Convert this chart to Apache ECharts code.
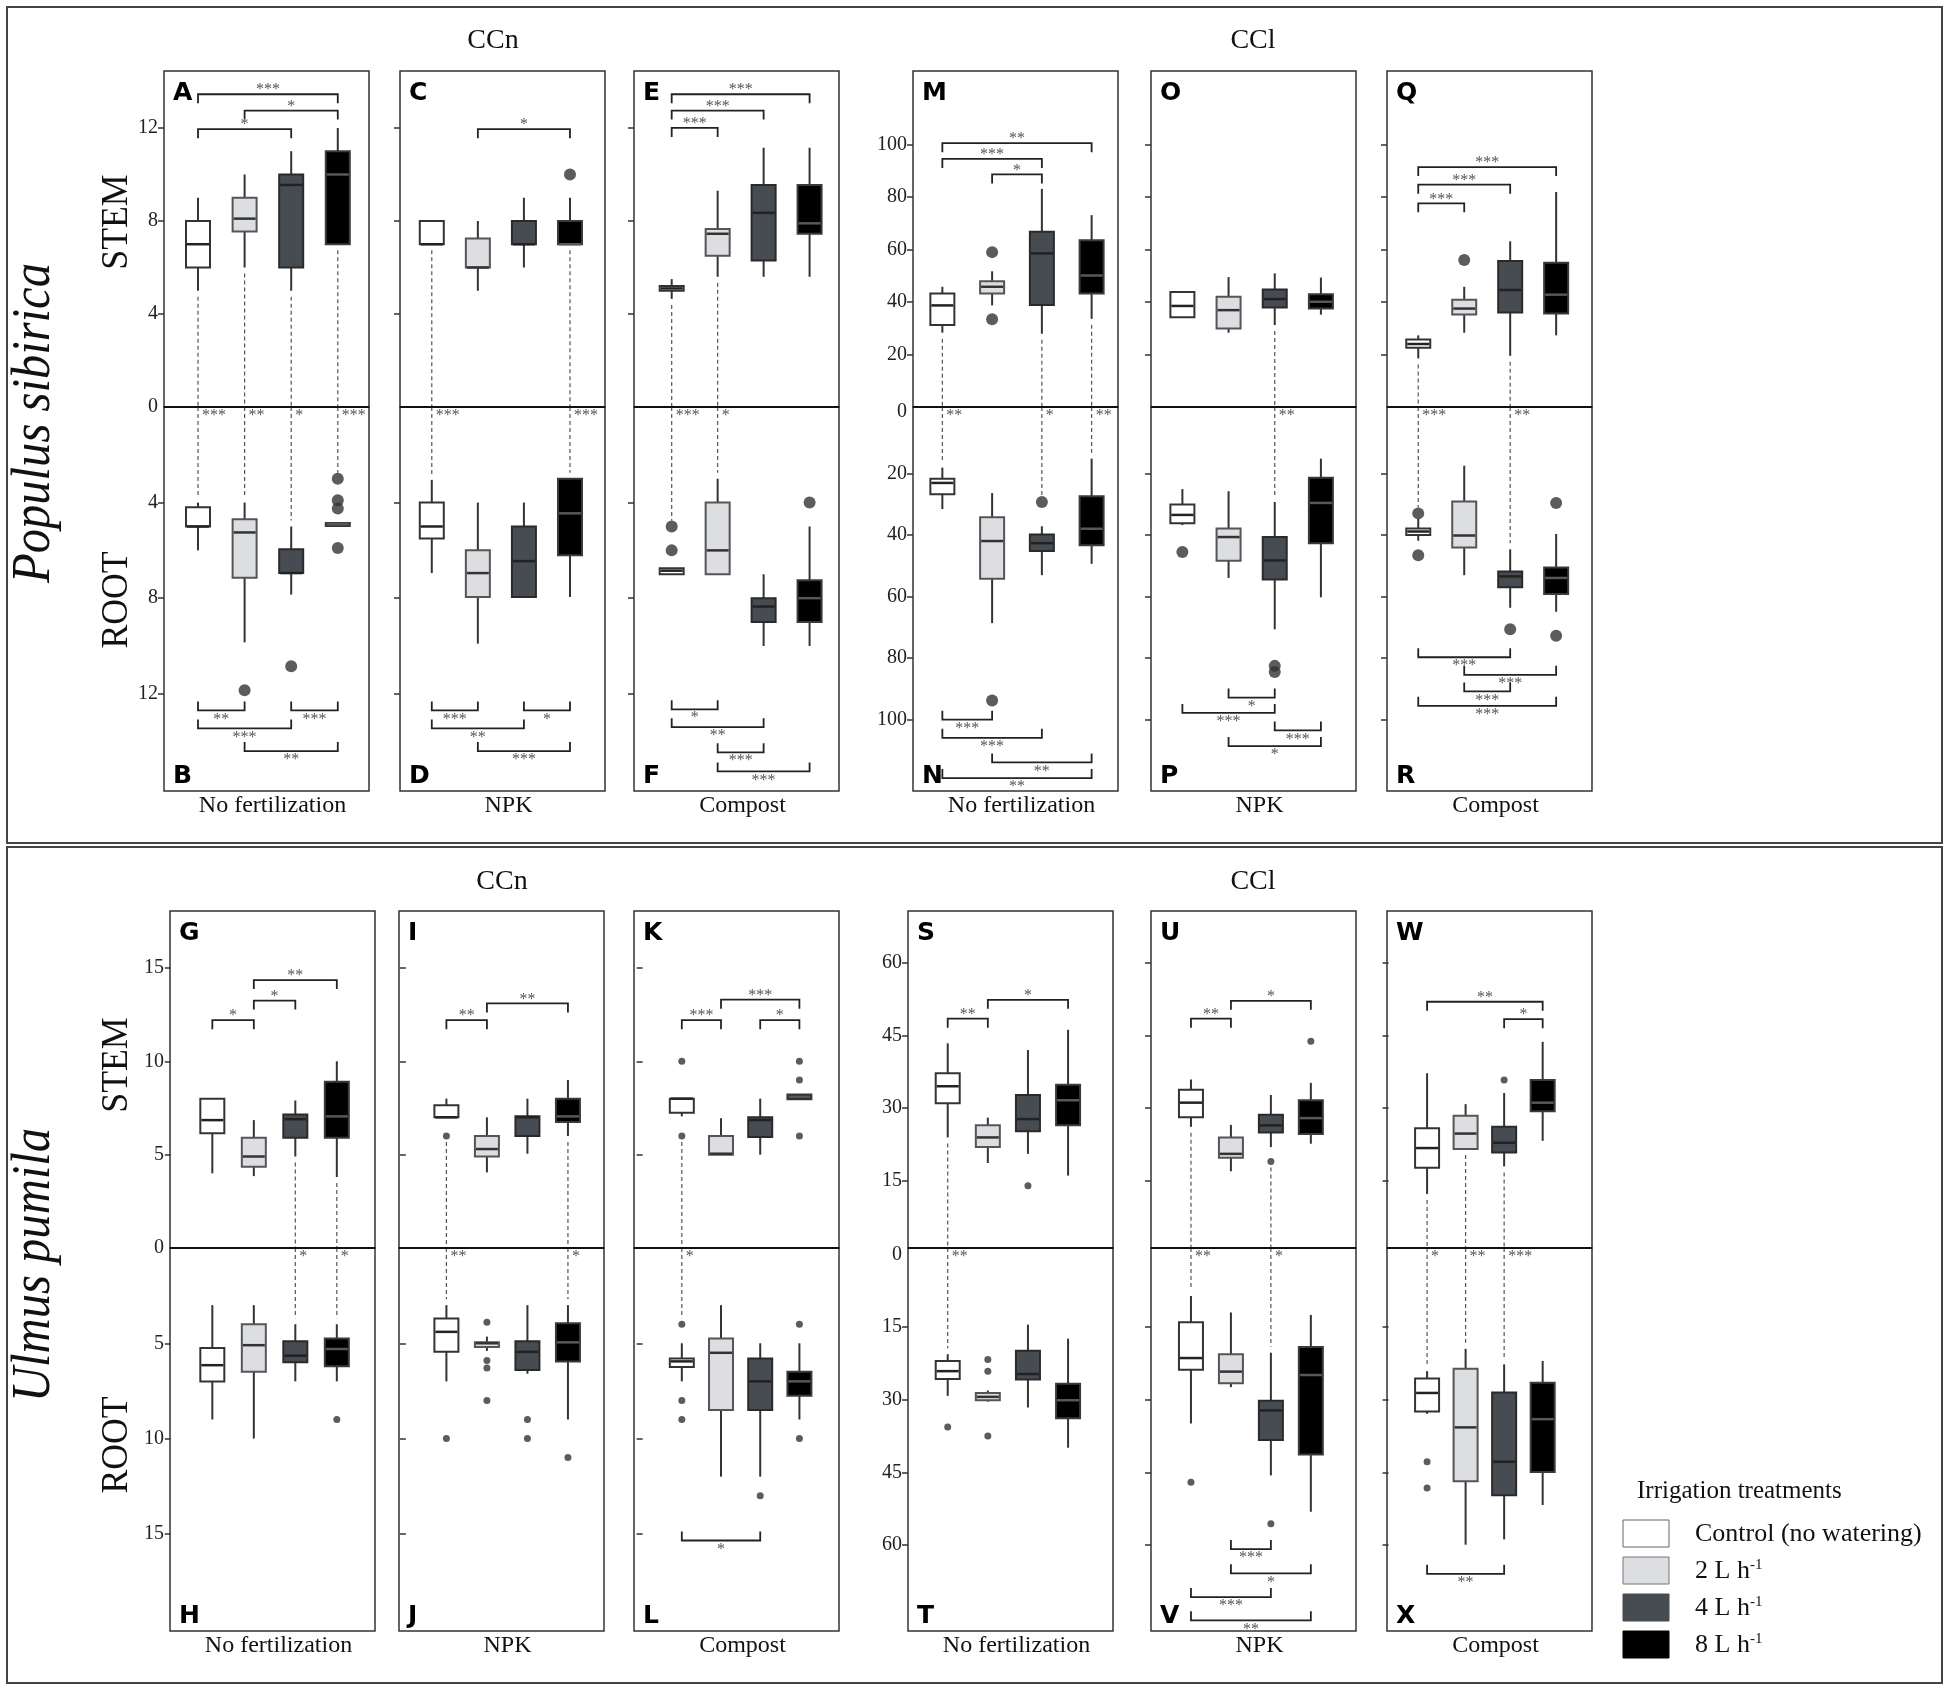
<!DOCTYPE html>
<html>
<head>
<meta charset="utf-8">
<script src="https://cdn.jsdelivr.net/npm/echarts@6/dist/echarts.min.js"></script>
<style>
  html, body { margin: 0; padding: 0; background: #fff; }
  #main { width: 1949px; height: 1690px; }
</style>
</head>
<body>
<div id="main"></div>
<script>
// irrigation treatments (box colours follow this order)
var treatments = ['Control (no watering)', '2 L h-1', '4 L h-1', '8 L h-1'];
var fertNames = ['No fertilization', 'NPK', 'Compost'];

// tick labels
var ticksPopCCn = [4, 8, 12];
var ticksPopCCl = [20, 40, 60, 80, 100];
var ticksUlmCCn = [5, 10, 15];
var ticksUlmCCl = [15, 30, 45, 60];

// boxes: [min, q1, median, q3, max] per treatment; out: outliers; sig: [from, to, y, stars]
// Populus sibirica, CCn
var boxA = [[5, 6, 7, 8, 9], [6, 7.55, 8.1, 9, 10], [5, 6, 9.55, 10, 11], [7, 7, 10, 11, 12]];
var outA = [[], [], [], []];
var sigA = [[1, 4, 13.45, '***'], [2, 4, 12.75, '*'], [1, 3, 11.95, '*']];
var boxB = [[4, 4.2, 5, 5, 6], [4, 4.7, 5.25, 7.15, 9.85], [5, 5.95, 6.95, 6.95, 7.85], [4.85, 4.85, 4.9, 4.95, 4.95]];
var outB = [[], [11.85], [10.85], [3, 3.9, 4.25, 5.9]];
var sigB = [[1, 2, 12.7, '**'], [3, 4, 12.7, '***'], [1, 3, 13.45, '***'], [2, 4, 14.4, '**']];
var linkAB = [[1, '***'], [2, '**'], [3, '*'], [4, '***']];

var boxC = [[7, 7, 7, 8, 8], [5, 6, 6, 7.25, 8], [6, 7, 7, 8, 9], [7, 7, 7, 8, 9]];
var outC = [[], [], [], [10]];
var sigC = [[2, 4, 11.95, '*']];
var boxD = [[3.05, 4, 5, 5.5, 6.95], [4, 6, 6.95, 7.95, 9.9], [4, 5, 6.45, 7.95, 7.95], [3, 3, 4.45, 6.2, 7.95]];
var outD = [[], [], [], []];
var sigD = [[1, 2, 12.7, '***'], [3, 4, 12.7, '*'], [1, 3, 13.45, '**'], [2, 4, 14.4, '***']];
var linkCD = [[1, '***'], [4, '***']];

var boxE = [[4.65, 5, 5.1, 5.2, 5.5], [5.6, 6.5, 7.45, 7.65, 9.3], [5.6, 6.3, 8.35, 9.55, 11.15], [5.6, 7.45, 7.9, 9.55, 11.15]];
var outE = [[], [], [], []];
var sigE = [[1, 4, 13.45, '***'], [1, 3, 12.75, '***'], [1, 2, 12, '***']];
var boxF = [[6.75, 6.75, 6.85, 7, 7], [3, 4, 6, 7, 7], [7, 8, 8.35, 9, 10], [5, 7.25, 8, 9, 10]];
var outF = [[5, 6], [], [], [4]];
var sigF = [[1, 2, 12.65, '*'], [1, 3, 13.4, '**'], [2, 3, 14.45, '***'], [2, 4, 15.25, '***']];
var linkEF = [[1, '***'], [2, '*']];

// Populus sibirica, CCl
var boxM = [[28.3, 31.2, 38.7, 43.2, 45.8], [38.7, 43.2, 45.8, 47.9, 51.7], [27.9, 38.9, 58.5, 66.8, 83.1], [33.6, 43.2, 50.1, 63.5, 73.1]];
var outM = [[], [59, 33.4], [], []];
var sigM = [[1, 4, 100.5, '**'], [1, 3, 94.5, '***'], [2, 3, 88.6, '*']];
var boxN = [[18, 21.6, 23, 26.7, 31.5], [26.3, 34.2, 41.9, 54.2, 68.6], [37.1, 39.8, 42.6, 45.1, 53], [15.1, 27.3, 37.9, 43.3, 49.3]];
var outN = [[], [93.8], [29.2], []];
var sigN = [[1, 2, 100, '***'], [1, 3, 105.9, '***'], [2, 4, 113.9, '**'], [1, 4, 119, '**']];
var linkMN = [[1, '**'], [3, '*'], [4, '**']];

var boxO = [[34.2, 34.2, 38.5, 43.8, 43.8], [28.3, 29.9, 36.9, 42, 49.5], [31.2, 37.9, 41.1, 44.8, 50.9], [35.2, 37.5, 40.1, 43, 49.3]];
var outO = [[], [], [], []];
var sigO = [];
var boxP = [[25, 30, 33.4, 36.1, 36.7], [25.7, 37.8, 40.6, 48.3, 53.9], [29.2, 40.6, 48.2, 54.4, 70.6], [15.1, 21.3, 29.5, 42.6, 60.2]];
var outP = [[45.5], [], [82.5, 84.5], []];
var sigP = [[2, 3, 92.8, '*'], [1, 3, 97.8, '***'], [3, 4, 103.5, '***'], [2, 4, 108.6, '*']];
var linkOP = [[3, '**']];

var boxQ = [[18.5, 22.6, 24, 25.7, 27.3], [28.3, 35.2, 37.5, 40.9, 45.8], [19.5, 36, 44.6, 55.6, 63.1], [27.3, 35.6, 42.8, 55, 81.9]];
var outQ = [[], [56], [], []];
var sigQ = [[1, 4, 91.4, '***'], [1, 3, 84.7, '***'], [1, 2, 77.6, '***']];
var boxR = [[34.6, 37.8, 38.8, 39.9, 41.8], [17.4, 29, 40.1, 44, 53], [44.6, 51.8, 53.4, 56.9, 63.6], [39.6, 50.5, 53.9, 59.1, 64.9]];
var outR = [[32.9, 46.5], [], [70.6], [29.5, 72.7]];
var sigR = [[1, 3, 79.7, '***'], [2, 4, 85.4, '***'], [2, 3, 90.8, '***'], [1, 4, 95.5, '***']];
var linkQR = [[1, '***'], [3, '**']];

// Ulmus pumila, CCn
var boxG = [[4, 6.15, 6.85, 8, 8], [3.85, 4.35, 4.9, 5.9, 6.85], [4.9, 5.9, 6.9, 7.15, 7.9], [3.8, 5.9, 7.05, 8.9, 10]];
var outG = [[], [], [], []];
var sigG = [[1, 2, 12.2, '*'], [2, 3, 13.25, '*'], [2, 4, 14.35, '**']];
var boxH = [[3, 5.25, 6.15, 7, 9], [3, 4, 5.1, 6.5, 10], [4, 4.9, 5.65, 6, 7], [4, 4.75, 5.3, 6.2, 7]];
var outH = [[], [], [], [9]];
var sigH = [];
var linkGH = [[3, '*'], [4, '*']];

var boxI = [[7, 7, 7, 7.65, 8], [4.05, 4.9, 5.3, 6, 7], [5.05, 6, 7, 7.05, 8], [6, 6.75, 7.05, 8, 9]];
var outI = [[6], [], [], []];
var sigI = [[1, 2, 12.2, '**'], [2, 4, 13.1, '**']];
var boxJ = [[3, 3.7, 4.4, 5.45, 7], [4.65, 4.95, 5, 5.2, 5.4], [3, 4.9, 5.45, 6.4, 6.6], [3, 3.95, 4.95, 5.95, 9]];
var outJ = [[10], [3.9, 5.9, 6.3, 8], [9, 10], [11]];
var sigJ = [];
var linkIJ = [[1, '**'], [4, '*']];

var boxK = [[7.05, 7.25, 8, 8, 8], [5, 5, 5.05, 6, 6.95], [5, 5.95, 6.85, 7, 8], [7.97, 7.97, 8.1, 8.22, 8.22]];
var outK = [[10, 6], [], [], [10, 9, 6]];
var sigK = [[1, 2, 12.2, '***'], [3, 4, 12.2, '*'], [2, 4, 13.3, '***']];
var boxL = [[5, 5.8, 5.95, 6.25, 7], [3, 4.75, 5.5, 8.5, 12], [5, 5.8, 7, 8.5, 12], [5, 6.5, 7, 7.75, 9]];
var outL = [[4, 8, 9], [], [13], [4, 10]];
var sigL = [[1, 3, 15.35, '*']];
var linkKL = [[1, '*']];

// Ulmus pumila, CCl
var boxS = [[23.9, 31, 34.5, 37.2, 43.4], [18.6, 21.9, 23.9, 26.4, 28], [20.5, 25.2, 27.7, 32.7, 42], [16, 26.4, 31.6, 34.8, 46.2]];
var outS = [[], [], [13.9], []];
var sigS = [[1, 2, 48.5, '**'], [2, 4, 52.4, '*']];
var boxT = [[20.6, 22, 24.1, 25.7, 29.2], [28.1, 28.6, 29.4, 30.1, 30.4], [14.5, 19.9, 24.7, 25.8, 31.6], [17.4, 26.7, 30.1, 33.8, 39.9]];
var outT = [[35.6], [21.7, 24.1, 37.5], [], []];
var sigT = [];
var linkST = [[1, '**']];

var boxU = [[26.1, 28.1, 31.1, 33.8, 35.9], [16.9, 19.7, 20.5, 23.9, 26.5], [21.9, 24.9, 26.4, 28.6, 32.7], [22.6, 24.6, 27.9, 31.6, 35.2]];
var outU = [[], [], [18.9], [43.8]];
var sigU = [[1, 2, 48.5, '**'], [2, 4, 52.2, '*']];
var boxV = [[8.6, 14, 21.4, 23.8, 34.9], [12, 20.6, 24.2, 26.6, 27.4], [20.3, 30.2, 32.2, 38.3, 45.6], [12.5, 19.1, 24.9, 41.3, 53.1]];
var outV = [[47], [], [55.6], []];
var sigV = [[2, 3, 60.8, '***'], [2, 4, 65.8, '*'], [1, 3, 70.7, '***'], [1, 4, 75.5, '**']];
var linkUV = [[1, '**'], [3, '*']];

var boxW = [[12.2, 17.6, 21.7, 25.8, 37.2], [21.5, 21.5, 24.7, 28.4, 30.8], [17.9, 20.8, 22.8, 26.1, 33.1], [23.2, 29.3, 31.1, 35.8, 43.7]];
var outW = [[], [], [35.8], []];
var sigW = [[1, 4, 52, '**'], [3, 4, 48.4, '*']];
var boxX = [[24.1, 25.6, 28.6, 32.4, 32.9], [19.5, 23.6, 35.7, 46.8, 59.9], [22.7, 28.5, 42.8, 49.7, 58.8], [22, 26.5, 34, 44.9, 51.7]];
var outX = [[42.8, 48.2], [], [], []];
var sigX = [[1, 3, 65.9, '**']];
var linkWX = [[1, '*'], [2, '**'], [3, '***']];

// ---------------------------------------------------------------
var BOX = {A: boxA, B: boxB, C: boxC, D: boxD, E: boxE, F: boxF, M: boxM, N: boxN, O: boxO, P: boxP, Q: boxQ, R: boxR,
           G: boxG, H: boxH, I: boxI, J: boxJ, K: boxK, L: boxL, S: boxS, T: boxT, U: boxU, V: boxV, W: boxW, X: boxX};
var OUT = {A: outA, B: outB, C: outC, D: outD, E: outE, F: outF, M: outM, N: outN, O: outO, P: outP, Q: outQ, R: outR,
           G: outG, H: outH, I: outI, J: outJ, K: outK, L: outL, S: outS, T: outT, U: outU, V: outV, W: outW, X: outX};
var SIG = {A: sigA, B: sigB, C: sigC, D: sigD, E: sigE, F: sigF, M: sigM, N: sigN, O: sigO, P: sigP, Q: sigQ, R: sigR,
           G: sigG, H: sigH, I: sigI, J: sigJ, K: sigK, L: sigL, S: sigS, T: sigT, U: sigU, V: sigV, W: sigW, X: sigX};
var LINK = {A: linkAB, C: linkCD, E: linkEF, M: linkMN, O: linkOP, Q: linkQR,
            G: linkGH, I: linkIJ, K: linkKL, S: linkST, U: linkUV, W: linkWX};

// layout (pixels)
var SERIF = 'Liberation Serif';
var PW = 205;
var rows = [
  {top: 71, zero: 407, bottom: 791, lefts: [164, 400, 634, 913, 1151, 1387],
   xr: [[0.27, 4.67], [0.31, 4.76], [0.18, 4.64], [0.41, 4.53], [0.32, 4.76], [0.32, 4.78]], dot: 12},
  {top: 911, zero: 1248, bottom: 1631, lefts: [170, 399, 634, 908, 1151, 1387],
   xr: [[-0.02, 4.92], [-0.17, 4.89], [-0.22, 5.01], [0.01, 5.12], [0.0, 5.13], [-0.04, 5.28]], dot: 7}
];
var scales = {
  pn: {stem: [0, 14.45], root: [0, 16.07], ticks: ticksPopCCn},
  pl: {stem: [0, 128], root: [-1.7, 123.2], ticks: ticksPopCCl},
  un: {stem: [0, 18.05], root: [0, 20.1], ticks: ticksUlmCCn},
  ul: {stem: [1, 70.8], root: [-1.3, 77.7], ticks: ticksUlmCCl}
};
var panels = [
  {s: 'A', r: 'B', row: 0, col: 0, sc: 'pn'}, {s: 'C', r: 'D', row: 0, col: 1, sc: 'pn'}, {s: 'E', r: 'F', row: 0, col: 2, sc: 'pn'},
  {s: 'M', r: 'N', row: 0, col: 3, sc: 'pl'}, {s: 'O', r: 'P', row: 0, col: 4, sc: 'pl'}, {s: 'Q', r: 'R', row: 0, col: 5, sc: 'pl'},
  {s: 'G', r: 'H', row: 1, col: 0, sc: 'un'}, {s: 'I', r: 'J', row: 1, col: 1, sc: 'un'}, {s: 'K', r: 'L', row: 1, col: 2, sc: 'un'},
  {s: 'S', r: 'T', row: 1, col: 3, sc: 'ul'}, {s: 'U', r: 'V', row: 1, col: 4, sc: 'ul'}, {s: 'W', r: 'X', row: 1, col: 5, sc: 'ul'}
];
var fills = ['#ffffff', '#dcdee2', '#474c53', '#000000'];
var strokes = ['#333333', '#555555', '#2a2a2a', '#3a3a3a'];
var medians = ['#222222', '#333333', '#222222', '#585858'];

//画箱线
function renderBox(params, api) {
  var x = api.value(0), k = api.value(6);
  var lo = api.coord([x, api.value(1)]), q1 = api.coord([x, api.value(2)]), md = api.coord([x, api.value(3)]),
      q3 = api.coord([x, api.value(4)]), hi = api.coord([x, api.value(5)]);
  var cx = lo[0], hw = 12;
  var yTop = Math.min(q1[1], q3[1]), h = Math.max(Math.abs(q3[1] - q1[1]), 3);
  return {type: 'group', children: [
    {type: 'line', shape: {x1: cx, y1: lo[1], x2: cx, y2: q1[1]}, style: {stroke: '#333', lineWidth: 2}},
    {type: 'line', shape: {x1: cx, y1: q3[1], x2: cx, y2: hi[1]}, style: {stroke: '#333', lineWidth: 2}},
    {type: 'rect', shape: {x: cx - hw, y: yTop, width: hw * 2, height: h}, style: {fill: fills[k], stroke: strokes[k], lineWidth: 2}},
    {type: 'line', shape: {x1: cx - hw + 1, y1: md[1], x2: cx + hw - 1, y2: md[1]}, style: {stroke: medians[k], lineWidth: 2.5}}
  ]};
}
//显著性括号 dir=1 茎(向下的脚), dir=-1 根(向上的脚)
function bracketRenderer(dir) {
  return function (params, api) {
    var y = api.value(2);
    var a = api.coord([api.value(0), y]), b = api.coord([api.value(1), y]);
    var t = 9 * dir;
    return {type: 'group', children: [
      {type: 'polyline', shape: {points: [[a[0], a[1] + t], [a[0], a[1]], [b[0], b[1]], [b[0], b[1] + t]]},
       style: {stroke: '#222', lineWidth: 1.8, fill: 'none'}},
      {type: 'text', x: (a[0] + b[0]) / 2, y: dir > 0 ? a[1] - 4 : a[1] + 9,
       style: {text: new Array(api.value(3) + 1).join('*'), fontSize: 16, fontFamily: SERIF, fill: '#555', align: 'center', verticalAlign: 'middle'}}
    ]};
  };
}
//茎到零线的虚线
function stemLinkRenderer(axisMin) {
  return function (params, api) {
    var p = api.coord([api.value(0), api.value(1)]);
    var b = api.coord([api.value(0), axisMin]);
    return {type: 'line', shape: {x1: p[0], y1: p[1] + 6, x2: p[0], y2: b[1]},
            style: {stroke: '#555', lineWidth: 1.2, lineDash: [4, 3]}};
  };
}
function rootLinkRenderer(axisMin) {
  return function (params, api) {
    var p = api.coord([api.value(0), api.value(1)]);
    var t = api.coord([api.value(0), axisMin]);
    return {type: 'group', children: [
      {type: 'line', shape: {x1: p[0], y1: t[1], x2: p[0], y2: p[1] - 6},
       style: {stroke: '#555', lineWidth: 1.2, lineDash: [4, 3]}},
      {type: 'text', x: p[0] + 4, y: t[1] + 9,
       style: {text: new Array(api.value(2) + 1).join('*'), fontSize: 16, fontFamily: SERIF, fill: '#555', align: 'left', verticalAlign: 'middle'}}
    ]};
  };
}
function yAx(gi, range, ticks, labels, inverse, showLabel) {
  return {
    gridIndex: gi, type: 'value', min: range[0], max: range[1], inverse: inverse,
    axisLine: {show: false}, splitLine: {show: false},
    axisTick: {show: true, length: 6, lineStyle: {color: '#333', width: 1.5}, customValues: ticks},
    axisLabel: {show: showLabel, customValues: labels, fontFamily: SERIF, fontSize: 20, color: '#222', margin: 6}
  };
}
function boxData(arr) {
  return arr.map(function (b, i) { return [i + 1, b[0], b[1], b[2], b[3], b[4], i]; });
}
function outData(arr) {
  var d = [];
  arr.forEach(function (o, i) { o.forEach(function (v) { d.push([i + 1, v]); }); });
  return d;
}
function sigData(arr) {
  return arr.map(function (s) { return [s[0], s[1], s[2], s[3].length]; });
}
function lowest(box, out, g) {
  return Math.min.apply(null, [box[g][0]].concat(out[g]));
}

var option = {animation: false, backgroundColor: '#fff', textStyle: {fontFamily: SERIF},
  grid: [], xAxis: [], yAxis: [], series: [], graphic: []};
var G = option.graphic;

// outer frames
G.push({type: 'rect', shape: {x: 7, y: 7, width: 1935, height: 836}, style: {fill: 'none', stroke: '#444', lineWidth: 2}, z: -1});
G.push({type: 'rect', shape: {x: 7, y: 847, width: 1935, height: 836}, style: {fill: 'none', stroke: '#444', lineWidth: 2}, z: -1});

panels.forEach(function (p) {
  var L = rows[p.row], sc = scales[p.sc], left = L.lefts[p.col];
  var gi = option.grid.length;
  var showLab = p.col === 0 || p.col === 3;
  [[L.top, L.zero], [L.zero, L.bottom]].forEach(function (tb) {
    option.grid.push({left: left, top: tb[0], width: PW, height: tb[1] - tb[0], show: true,
      borderColor: '#333', borderWidth: 1.5, backgroundColor: '#fff', containLabel: false, outerBoundsMode: 'none'});
    option.xAxis.push({gridIndex: option.grid.length - 1, type: 'value', min: L.xr[p.col][0], max: L.xr[p.col][1], show: false});
  });
  option.yAxis.push(yAx(gi, sc.stem, sc.ticks, sc.ticks, false, showLab));
  option.yAxis.push(yAx(gi + 1, sc.root, sc.ticks, [0].concat(sc.ticks), true, showLab));

  var sb = BOX[p.s], rb = BOX[p.r], so = OUT[p.s], ro = OUT[p.r];
  [[gi, p.s, 1], [gi + 1, p.r, -1]].forEach(function (q) {
    var idx = q[0], key = q[1];
    option.series.push({type: 'custom', xAxisIndex: idx, yAxisIndex: idx, renderItem: renderBox, silent: true,
      encode: {x: 0, y: [1, 2, 3, 4, 5]}, data: boxData(BOX[key]), z: 3});
    option.series.push({type: 'scatter', xAxisIndex: idx, yAxisIndex: idx, silent: true, symbolSize: L.dot,
      itemStyle: {color: '#333'}, data: outData(OUT[key]), z: 4});
    option.series.push({type: 'custom', xAxisIndex: idx, yAxisIndex: idx, renderItem: bracketRenderer(q[2]), silent: true,
      encode: {x: [0, 1], y: 2}, data: sigData(SIG[key]), z: 5});
  });
  var links = LINK[p.s];
  option.series.push({type: 'custom', xAxisIndex: gi, yAxisIndex: gi, renderItem: stemLinkRenderer(sc.stem[0]), silent: true, z: 2,
    encode: {x: 0, y: 1}, data: links.map(function (l) { return [l[0], lowest(sb, so, l[0] - 1), l[1].length]; })});
  option.series.push({type: 'custom', xAxisIndex: gi + 1, yAxisIndex: gi + 1, renderItem: rootLinkRenderer(sc.root[0]), silent: true, z: 2,
    encode: {x: 0, y: 1}, data: links.map(function (l) { return [l[0], lowest(rb, ro, l[0] - 1), l[1].length]; })});

  // stem/root divider, panel letters and fertilization label
  G.push({type: 'line', shape: {x1: left, y1: L.zero, x2: left + PW, y2: L.zero}, style: {stroke: '#111', lineWidth: 2}, z: 20});
  G.push({type: 'text', x: left + 9, y: L.top + 10, style: {text: p.s, fontSize: 25, fontWeight: 'bold', fontFamily: 'DejaVu Sans', fill: '#000', align: 'left', verticalAlign: 'top'}, z: 10});
  G.push({type: 'text', x: left + 9, y: L.bottom - 2, style: {text: p.r, fontSize: 25, fontWeight: 'bold', fontFamily: 'DejaVu Sans', fill: '#000', align: 'left', verticalAlign: 'bottom'}, z: 10});
  G.push({type: 'text', x: left + PW / 2 + 6, y: L.bottom + 15, style: {text: fertNames[p.col % 3], fontSize: 24, fontFamily: SERIF, fill: '#111', align: 'center', verticalAlign: 'middle'}});
});

// headings
[[493, 41, 'CCn'], [1253, 41, 'CCl'], [502, 882, 'CCn'], [1253, 882, 'CCl']].forEach(function (t) {
  G.push({type: 'text', x: t[0], y: t[1], style: {text: t[2], fontSize: 28, fontFamily: SERIF, fill: '#111', align: 'center', verticalAlign: 'middle'}});
});
[[35, 423, 'Populus sibirica'], [35, 1265, 'Ulmus pumila']].forEach(function (t) {
  G.push({type: 'text', x: t[0], y: t[1], rotation: Math.PI / 2, scaleX: 0.9,
    style: {text: t[2], fontSize: 54, fontStyle: 'italic', fontFamily: SERIF, fill: '#111', align: 'center', verticalAlign: 'middle'}});
});
[[117, 222, 'STEM'], [117, 600, 'ROOT'], [117, 1065, 'STEM'], [117, 1445, 'ROOT']].forEach(function (t) {
  G.push({type: 'text', x: t[0], y: t[1], rotation: Math.PI / 2, scaleX: 0.94,
    style: {text: t[2], fontSize: 38, fontFamily: SERIF, fill: '#111', align: 'center', verticalAlign: 'middle'}});
});

// legend
G.push({type: 'text', x: 1637, y: 1491, style: {text: 'Irrigation treatments', fontSize: 25, fontFamily: SERIF, fill: '#111', align: 'left', verticalAlign: 'middle'}});
treatments.forEach(function (name, i) {
  var y = 1520 + i * 37;
  G.push({type: 'rect', shape: {x: 1623, y: y, width: 46, height: 27}, style: {fill: fills[i], stroke: i === 0 ? '#666' : (i === 1 ? '#777' : fills[i]), lineWidth: 1}});
  var m = name.match(/^(.*) h-1$/);
  var txt = m ? '{n|' + m[1] + ' h}{s|-1}' : '{n|' + name + '}';
  G.push({type: 'text', x: 1695, y: y + 14, style: {text: txt, align: 'left', verticalAlign: 'middle',
    rich: {n: {fontSize: 26, fontFamily: SERIF, fill: '#111', color: '#111'},
           s: {fontSize: 15, fontFamily: SERIF, fill: '#111', color: '#111', verticalAlign: 'top'}}}});
});

var chart = echarts.init(document.getElementById('main'));
chart.setOption(option);
</script>
</body>
</html>
